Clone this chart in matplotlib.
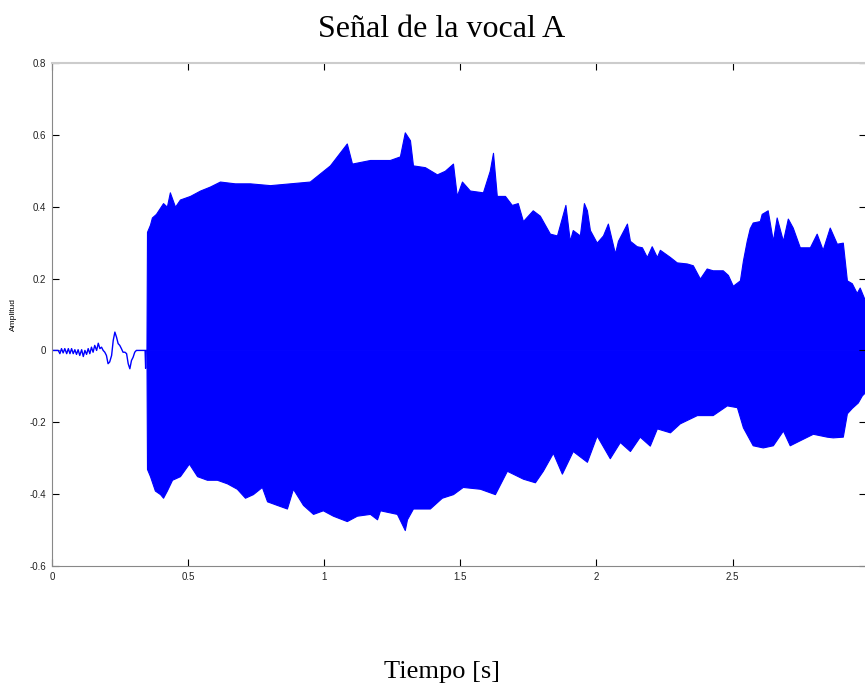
import numpy as np
import matplotlib
matplotlib.use("Agg")
import matplotlib.pyplot as plt

# quiet part before the vowel (time [s], amplitude)
pre_t = [0.000, 0.023, 0.029, 0.035, 0.041, 0.047, 0.054, 0.060, 0.066, 0.072,
         0.078, 0.084, 0.090, 0.096, 0.102, 0.109, 0.115, 0.121, 0.127, 0.133,
         0.139, 0.145, 0.151, 0.157, 0.164, 0.170, 0.176, 0.182, 0.188, 0.194,
         0.200, 0.206, 0.212, 0.219, 0.225, 0.231, 0.237, 0.243, 0.249, 0.255,
         0.261, 0.268, 0.274, 0.280, 0.286, 0.292, 0.298, 0.304, 0.310, 0.330,
         0.342, 0.344, 0.346]
pre_a = [0.000, 0.000, -0.009, 0.005, -0.007, 0.005, -0.009, 0.005, -0.009, 0.005,
         -0.009, 0.002, -0.011, 0.002, -0.014, 0.002, -0.017, 0.000, -0.011, 0.005,
         -0.009, 0.009, -0.005, 0.014, 0.000, 0.020, 0.005, 0.009, 0.000, -0.005,
         -0.014, -0.037, -0.032, -0.014, 0.028, 0.051, 0.037, 0.019, 0.014, 0.005,
         -0.005, -0.005, -0.009, -0.037, -0.051, -0.028, -0.019, -0.005, 0.000, 0.000,
         0.000, -0.050, 0.000]

# upper envelope of the vowel
up_t = [0.347, 0.349, 0.360, 0.367, 0.382, 0.408, 0.422, 0.433, 0.452, 0.470,
        0.507, 0.544, 0.580, 0.617, 0.672, 0.727, 0.801, 0.874, 0.947, 1.021,
        1.083, 1.102, 1.168, 1.241, 1.278, 1.296, 1.315, 1.326, 1.370, 1.414,
        1.443, 1.473, 1.487, 1.506, 1.535, 1.583, 1.608, 1.620, 1.634, 1.664,
        1.689, 1.711, 1.730, 1.766, 1.792, 1.829, 1.855, 1.886, 1.902, 1.913,
        1.939, 1.954, 1.965, 1.976, 2.001, 2.024, 2.042, 2.068, 2.079, 2.112,
        2.123, 2.148, 2.167, 2.185, 2.203, 2.222, 2.233, 2.270, 2.295, 2.332,
        2.354, 2.380, 2.405, 2.427, 2.464, 2.483, 2.501, 2.527, 2.538, 2.552,
        2.563, 2.574, 2.600, 2.607, 2.629, 2.648, 2.662, 2.685, 2.703, 2.721,
        2.747, 2.784, 2.809, 2.831, 2.857, 2.883, 2.905, 2.920, 2.938, 2.956,
        2.967, 2.986]
up_a = [0.000, 0.33, 0.35, 0.37, 0.38, 0.41, 0.40, 0.44, 0.40, 0.42,
        0.43, 0.445, 0.456, 0.47, 0.465, 0.465, 0.46, 0.465, 0.47, 0.515,
        0.576, 0.52, 0.53, 0.53, 0.54, 0.607, 0.585, 0.515, 0.51, 0.49,
        0.50, 0.52, 0.43, 0.47, 0.445, 0.44, 0.50, 0.55, 0.43, 0.43,
        0.405, 0.41, 0.36, 0.39, 0.375, 0.325, 0.32, 0.405, 0.305, 0.335,
        0.32, 0.41, 0.39, 0.335, 0.30, 0.32, 0.353, 0.27, 0.305, 0.353,
        0.305, 0.29, 0.287, 0.26, 0.29, 0.26, 0.28, 0.26, 0.245, 0.242,
        0.237, 0.20, 0.228, 0.223, 0.223, 0.21, 0.18, 0.195, 0.25, 0.305,
        0.34, 0.356, 0.36, 0.38, 0.39, 0.305, 0.37, 0.305, 0.367, 0.342,
        0.287, 0.287, 0.325, 0.28, 0.342, 0.297, 0.30, 0.195, 0.187, 0.16,
        0.175, 0.14]

# lower envelope of the vowel
lo_t = [0.347, 0.349, 0.360, 0.378, 0.397, 0.408, 0.422, 0.441, 0.470, 0.503, 0.533,
        0.569, 0.606, 0.643, 0.679, 0.709, 0.738, 0.771, 0.790, 0.826, 0.863,
        0.885, 0.922, 0.959, 0.995, 1.032, 1.083, 1.120, 1.168, 1.194, 1.205,
        1.267, 1.296, 1.304, 1.326, 1.388, 1.432, 1.473, 1.509, 1.572, 1.627,
        1.671, 1.730, 1.774, 1.803, 1.840, 1.873, 1.913, 1.965, 2.001, 2.049,
        2.086, 2.123, 2.159, 2.196, 2.222, 2.270, 2.306, 2.369, 2.427, 2.479,
        2.516, 2.538, 2.574, 2.611, 2.648, 2.685, 2.710, 2.747, 2.795, 2.846,
        2.868, 2.905, 2.920, 2.938, 2.960, 2.975, 2.986]
lo_a = [0.000, -0.33, -0.35, -0.39, -0.40, -0.41, -0.39, -0.36, -0.35, -0.315, -0.35,
        -0.36, -0.36, -0.37, -0.385, -0.41, -0.40, -0.38, -0.42, -0.43, -0.44,
        -0.385, -0.43, -0.455, -0.445, -0.46, -0.475, -0.46, -0.455, -0.47, -0.445,
        -0.455, -0.50, -0.47, -0.44, -0.44, -0.41, -0.40, -0.38, -0.385, -0.40,
        -0.335, -0.357, -0.367, -0.335, -0.285, -0.343, -0.28, -0.31, -0.237, -0.30,
        -0.255, -0.28, -0.24, -0.265, -0.217, -0.228, -0.203, -0.18, -0.18, -0.153,
        -0.158, -0.214, -0.264, -0.27, -0.264, -0.223, -0.264, -0.25, -0.232, -0.24,
        -0.242, -0.24, -0.175, -0.16, -0.145, -0.125, -0.117]

xticks = [0, 0.5, 1, 1.5, 2, 2.5]
xtick_labels = ["0", "0.5", "1", "1.5", "2", "2.5"]
yticks = [-0.6, -0.4, -0.2, 0, 0.2, 0.4, 0.6, 0.8]
ytick_labels = ["-0.6", "-0.4", "-0.2", "0", "0.2", "0.4", "0.6", "0.8"]

fig = plt.figure(figsize=(8.65, 6.83), dpi=100)
ax = fig.add_axes([0.0601, 0.1713, 0.9410, 0.7365])

blue = "#0000ff"
ax.plot(pre_t, pre_a, color=blue, lw=1.0)
# vowel: upper and lower halves of the dense waveform
ax.fill_between(up_t, 0, up_a, color=blue, lw=0.8, edgecolor=blue)
ax.fill_between(lo_t, lo_a, 0, color=blue, lw=0.8, edgecolor=blue)

ax.set_xlim(0, 2.99)
ax.set_ylim(-0.6, 0.8)
ax.set_xticks(xticks)
ax.set_xticklabels(xtick_labels)
ax.set_yticks(yticks)
ax.set_yticklabels(ytick_labels)
ax.tick_params(direction="in", length=5, width=0.8, color="black",
               labelsize=7, labelcolor="#222222", top=True, right=True, pad=4)
for lab in ax.get_xticklabels() + ax.get_yticklabels():
    lab.set_family("Liberation Sans")

ax.spines["left"].set_color("#888888")
ax.spines["bottom"].set_color("#888888")
ax.spines["top"].set_color("#cccccc")
ax.spines["top"].set_linewidth(1.5)
ax.spines["right"].set_visible(False)

ax.set_ylabel("Amplitud", fontsize=6, family="Liberation Sans")
ax.yaxis.set_label_coords(-0.043, 0.5)

fig.text(0.511, 0.957, "Señal de la vocal A", ha="center", va="center",
         fontsize=23, family="Liberation Serif")
fig.text(0.511, 0.016, "Tiempo [s]", ha="center", va="center",
         fontsize=19, family="Liberation Serif")

plt.savefig("out.png", dpi=100)
